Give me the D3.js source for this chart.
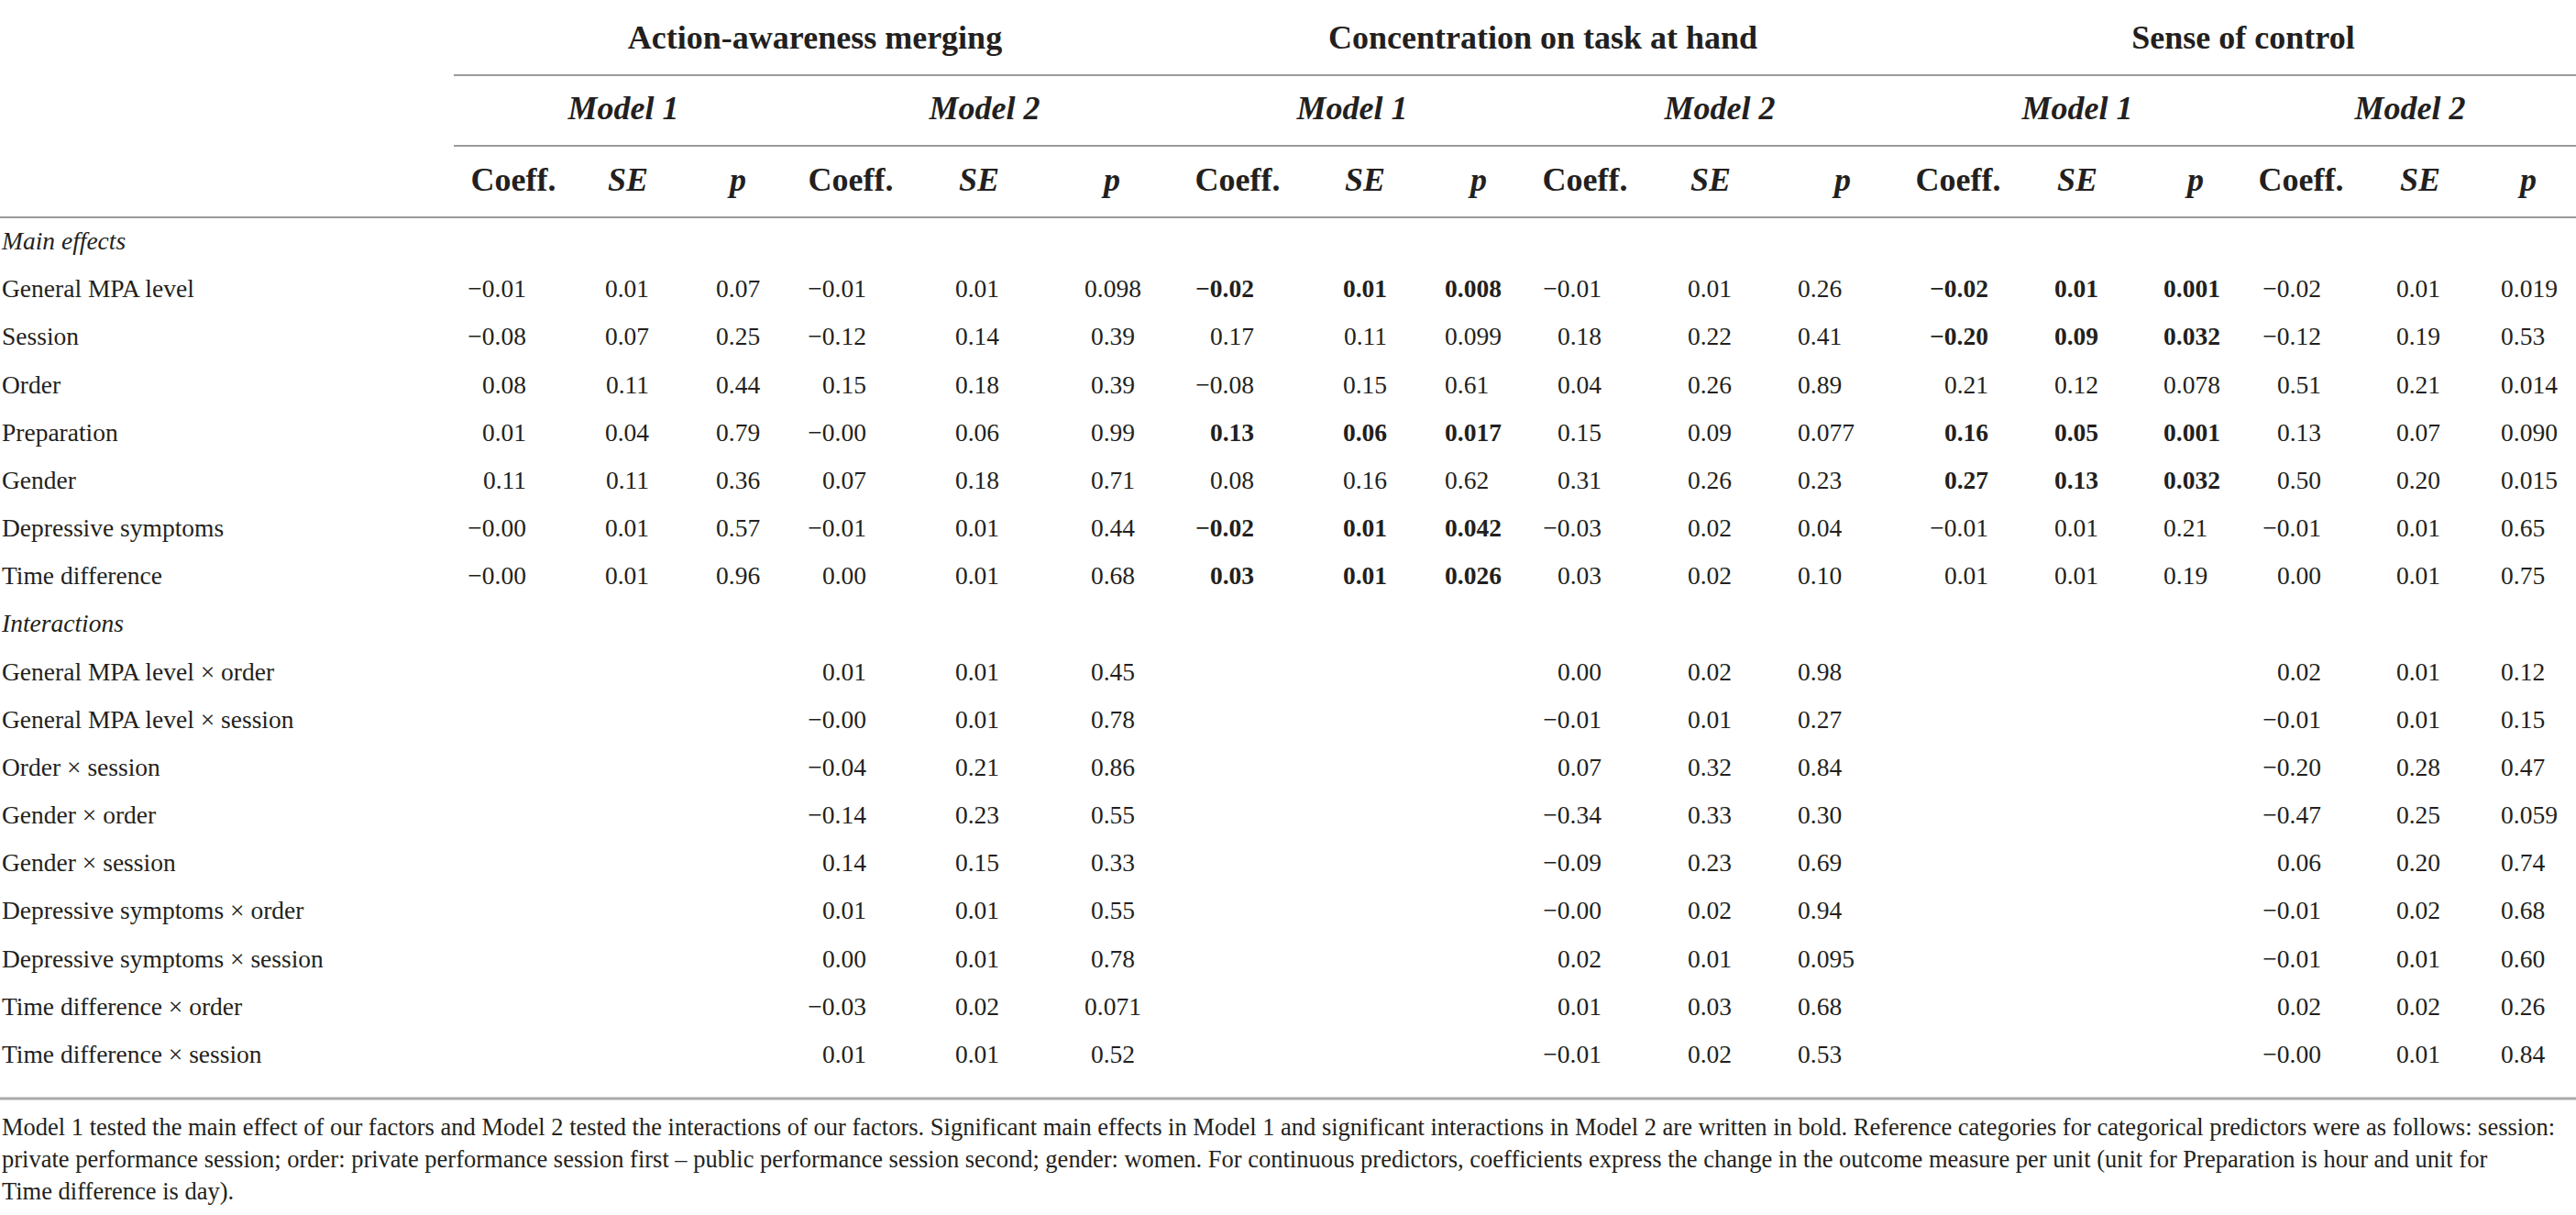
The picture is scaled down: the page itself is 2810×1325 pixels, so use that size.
<!DOCTYPE html>
<html><head><meta charset="utf-8">
<script src="https://cdn.jsdelivr.net/npm/d3@7"></script>
<style>html,body{margin:0;padding:0;background:#fff;} svg{display:block;}</style>
</head><body>
<svg id="chart" width="2810" height="1325"></svg>
<script>
// ---------- DATA ----------
const outcomes = ["Action-awareness merging", "Concentration on task at hand", "Sense of control"];
const models = ["Model 1", "Model 2"];
const statHeaders = ["Coeff.", "SE", "p"];
const sectionLabels = ["Main effects", "Interactions"];
const mainEffects = ["General MPA level", "Session", "Order", "Preparation", "Gender", "Depressive symptoms", "Time difference"];
const interactions = ["General MPA level × order", "General MPA level × session", "Order × session", "Gender × order",
  "Gender × session", "Depressive symptoms × order", "Depressive symptoms × session", "Time difference × order", "Time difference × session"];

// [coeff, SE, p] per predictor (Model 1: main effects only; Model 2: main effects + interactions)
const aamModel1 = [["−0.01","0.01","0.07"],["−0.08","0.07","0.25"],["0.08","0.11","0.44"],["0.01","0.04","0.79"],
  ["0.11","0.11","0.36"],["−0.00","0.01","0.57"],["−0.00","0.01","0.96"]];
const aamModel2 = [["−0.01","0.01","0.098"],["−0.12","0.14","0.39"],["0.15","0.18","0.39"],["−0.00","0.06","0.99"],
  ["0.07","0.18","0.71"],["−0.01","0.01","0.44"],["0.00","0.01","0.68"],
  ["0.01","0.01","0.45"],["−0.00","0.01","0.78"],["−0.04","0.21","0.86"],["−0.14","0.23","0.55"],["0.14","0.15","0.33"],
  ["0.01","0.01","0.55"],["0.00","0.01","0.78"],["−0.03","0.02","0.071"],["0.01","0.01","0.52"]];
const conModel1 = [["−0.02","0.01","0.008"],["0.17","0.11","0.099"],["−0.08","0.15","0.61"],["0.13","0.06","0.017"],
  ["0.08","0.16","0.62"],["−0.02","0.01","0.042"],["0.03","0.01","0.026"]];
const conModel2 = [["−0.01","0.01","0.26"],["0.18","0.22","0.41"],["0.04","0.26","0.89"],["0.15","0.09","0.077"],
  ["0.31","0.26","0.23"],["−0.03","0.02","0.04"],["0.03","0.02","0.10"],
  ["0.00","0.02","0.98"],["−0.01","0.01","0.27"],["0.07","0.32","0.84"],["−0.34","0.33","0.30"],["−0.09","0.23","0.69"],
  ["−0.00","0.02","0.94"],["0.02","0.01","0.095"],["0.01","0.03","0.68"],["−0.01","0.02","0.53"]];
const socModel1 = [["−0.02","0.01","0.001"],["−0.20","0.09","0.032"],["0.21","0.12","0.078"],["0.16","0.05","0.001"],
  ["0.27","0.13","0.032"],["−0.01","0.01","0.21"],["0.01","0.01","0.19"]];
const socModel2 = [["−0.02","0.01","0.019"],["−0.12","0.19","0.53"],["0.51","0.21","0.014"],["0.13","0.07","0.090"],
  ["0.50","0.20","0.015"],["−0.01","0.01","0.65"],["0.00","0.01","0.75"],
  ["0.02","0.01","0.12"],["−0.01","0.01","0.15"],["−0.20","0.28","0.47"],["−0.47","0.25","0.059"],["0.06","0.20","0.74"],
  ["−0.01","0.02","0.68"],["−0.01","0.01","0.60"],["0.02","0.02","0.26"],["−0.00","0.01","0.84"]];
// indices of predictors whose values are significant (bold)
const conModel1Bold = [0, 3, 5, 6];
const socModel1Bold = [0, 1, 3, 4];

const footnoteLines = [
  "Model 1 tested the main effect of our factors and Model 2 tested the interactions of our factors. Significant main effects in Model 1 and significant interactions in Model 2 are written in bold. Reference categories for categorical predictors were as follows: session:",
  "private performance session; order: private performance session first – public performance session second; gender: women. For continuous predictors, coefficients express the change in the outcome measure per unit (unit for Preparation is hour and unit for",
  "Time difference is day)."
];

// ---------- LAYOUT ----------
const W = 2810, H = 1325;
const FONT = "'Liberation Serif', 'Times New Roman', serif";
const INK = "#231f20";
const RULE = "#9a9a9a";

const svg = d3.select("#chart").attr("viewBox", `0 0 ${W} ${H}`);
svg.append("rect").attr("width", W).attr("height", H).attr("fill", "#fff");

const tables = [[aamModel1, aamModel2], [conModel1, conModel2], [socModel1, socModel2]];
const boldSets = [[[], []], [conModel1Bold, []], [socModel1Bold, []]];

const rowOrder = [sectionLabels[0], ...mainEffects, sectionLabels[1], ...interactions];
const y = d3.scalePoint().domain(rowOrder).range([272, 1159]);

const outcomeX = d3.scaleOrdinal().domain(outcomes).range([889, 1683, 2447]);
const modelKeys = outcomes.flatMap((o, i) => models.map((m, j) => `${i}-${j}`));
const modelX = d3.scaleOrdinal().domain(modelKeys).range([680, 1074, 1475, 1876, 2266, 2629]);
const colKeys = modelKeys.flatMap(k => statHeaders.map((s, si) => `${k}-${si}`));
const headX = d3.scaleOrdinal().domain(colKeys)
  .range([560, 685, 805, 928, 1068, 1213, 1350, 1489, 1613, 1729, 1866, 2010, 2136, 2266, 2395, 2510, 2640, 2758]);
const valX = d3.scaleOrdinal().domain(colKeys)
  .range([574, 708, 781, 945, 1090, 1214, 1368, 1513, 1576, 1747, 1889, 1961, 2169, 2289, 2360, 2532, 2662, 2728]);
const valAnchor = d3.scaleOrdinal().domain(colKeys)
  .range(colKeys.map(k => k === "0-1-2" ? "middle" : (k.endsWith("-2") ? "start" : "end")));

// rules
const rules = [
  {x1: 495, x2: W, y: 82, w: 2, c: RULE},
  {x1: 495, x2: W, y: 159, w: 2, c: RULE},
  {x1: 0, x2: W, y: 237, w: 2, c: RULE},
  {x1: 0, x2: W, y: 1198, w: 3, c: "#aaaaaa"}
];
svg.append("g").selectAll("line").data(rules).join("line")
  .attr("x1", d => d.x1).attr("x2", d => d.x2).attr("y1", d => d.y).attr("y2", d => d.y)
  .attr("stroke", d => d.c).attr("stroke-width", d => d.w);

const g = svg.append("g").attr("font-family", FONT).attr("fill", INK);

// outcome headers
g.append("g").selectAll("text").data(outcomes).join("text")
  .attr("x", d => outcomeX(d)).attr("y", 53).attr("text-anchor", "middle")
  .attr("font-size", 36).attr("font-weight", "bold").text(d => d);

// model headers
g.append("g").selectAll("text").data(modelKeys).join("text")
  .attr("x", d => modelX(d)).attr("y", 130).attr("text-anchor", "middle")
  .attr("font-size", 36).attr("font-weight", "bold").attr("font-style", "italic")
  .text(d => models[+d.split("-")[1]]);

// stat headers
g.append("g").selectAll("text").data(colKeys).join("text")
  .attr("x", d => headX(d)).attr("y", 208).attr("text-anchor", "middle")
  .attr("font-size", 36).attr("font-weight", "bold")
  .attr("font-style", d => d.endsWith("-0") ? "normal" : "italic")
  .text(d => statHeaders[+d.split("-")[2]]);

// row labels
g.append("g").selectAll("text").data(rowOrder).join("text")
  .attr("x", 2).attr("y", d => y(d)).attr("font-size", 27.5)
  .attr("font-style", d => sectionLabels.includes(d) ? "italic" : "normal")
  .text(d => d);

// cells
const predictors = [...mainEffects, ...interactions];
const cells = [];
tables.forEach((pair, oi) => pair.forEach((rows, mi) => rows.forEach((triple, ri) => triple.forEach((v, si) => {
  cells.push({key: `${oi}-${mi}-${si}`, row: predictors[ri], v, bold: boldSets[oi][mi].includes(ri)});
}))));
g.append("g").selectAll("text").data(cells).join("text")
  .attr("x", d => valX(d.key)).attr("y", d => y(d.row))
  .attr("text-anchor", d => valAnchor(d.key))
  .attr("font-size", 27.5).attr("font-weight", d => d.bold ? "bold" : "normal")
  .text(d => d.v);

// footnote
g.append("g").selectAll("text").data(footnoteLines).join("text")
  .attr("x", 2).attr("y", (d, i) => 1238 + i * 35).attr("font-size", 26.5).text(d => d);
</script>
</body></html>
